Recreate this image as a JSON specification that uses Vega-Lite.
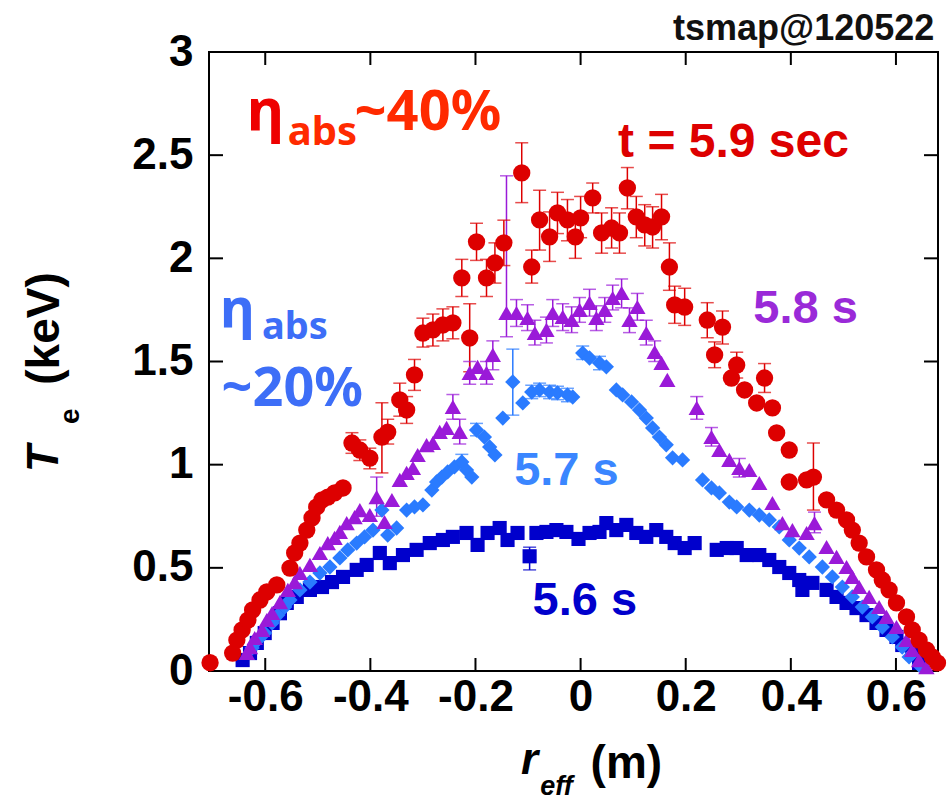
{
"$schema": "https://vega.github.io/schema/vega-lite/v6.json",
"width": 729, "height": 619,
"autosize": {"type": "none"},
"padding": {"left": 209, "top": 52, "right": 12, "bottom": 129},
"background": "white",
"config": {"view": {"stroke": "#000", "strokeWidth": 2}, "font": "Liberation Sans"},
"datasets": {
"xt": [{"v":-0.6},{"v":-0.4},{"v":-0.2},{"v":0},{"v":0.2},{"v":0.4},{"v":0.6}],
"yt": [{"v":0.5},{"v":1},{"v":1.5},{"v":2},{"v":2.5}],
"te": [
{"s":"5.6","x":-0.643,"y":0.053},{"s":"5.6","x":-0.629,"y":0.087},{"s":"5.6","x":-0.616,"y":0.136},{"s":"5.6","x":-0.601,"y":0.184},{"s":"5.6","x":-0.586,"y":0.233},{"s":"5.6","x":-0.572,"y":0.28},{"s":"5.6","x":-0.559,"y":0.33},{"s":"5.6","x":-0.54,"y":0.359},{"s":"5.6","x":-0.515,"y":0.393},{"s":"5.6","x":-0.492,"y":0.407},{"s":"5.6","x":-0.473,"y":0.431},{"s":"5.6","x":-0.452,"y":0.456},{"s":"5.6","x":-0.426,"y":0.49},{"s":"5.6","x":-0.407,"y":0.514},{"s":"5.6","x":-0.382,"y":0.572},{"s":"5.6","x":-0.363,"y":0.523},{"s":"5.6","x":-0.338,"y":0.562},{"s":"5.6","x":-0.312,"y":0.587},{"s":"5.6","x":-0.287,"y":0.62},{"s":"5.6","x":-0.262,"y":0.635},{"s":"5.6","x":-0.243,"y":0.65},{"s":"5.6","x":-0.217,"y":0.669},{"s":"5.6","x":-0.196,"y":0.611},{"s":"5.6","x":-0.177,"y":0.669},{"s":"5.6","x":-0.154,"y":0.693},{"s":"5.6","x":-0.139,"y":0.635},{"s":"5.6","x":-0.12,"y":0.669},{"s":"5.6","x":-0.097,"y":0.556,"lo":0.49,"hi":0.6},{"s":"5.6","x":-0.084,"y":0.669},{"s":"5.6","x":-0.065,"y":0.674},{"s":"5.6","x":-0.046,"y":0.683},{"s":"5.6","x":-0.027,"y":0.674},{"s":"5.6","x":-0.004,"y":0.64},{"s":"5.6","x":0.017,"y":0.669},{"s":"5.6","x":0.036,"y":0.674},{"s":"5.6","x":0.049,"y":0.717},{"s":"5.6","x":0.068,"y":0.683},{"s":"5.6","x":0.087,"y":0.708},{"s":"5.6","x":0.106,"y":0.669},{"s":"5.6","x":0.125,"y":0.65},{"s":"5.6","x":0.144,"y":0.683},{"s":"5.6","x":0.163,"y":0.65},{"s":"5.6","x":0.179,"y":0.62},{"s":"5.6","x":0.198,"y":0.596},{"s":"5.6","x":0.217,"y":0.62},{"s":"5.6","x":0.259,"y":0.587},{"s":"5.6","x":0.278,"y":0.596},{"s":"5.6","x":0.297,"y":0.596},{"s":"5.6","x":0.316,"y":0.562},{"s":"5.6","x":0.34,"y":0.562},{"s":"5.6","x":0.359,"y":0.538},{"s":"5.6","x":0.378,"y":0.504},{"s":"5.6","x":0.397,"y":0.475},{"s":"5.6","x":0.416,"y":0.441},{"s":"5.6","x":0.422,"y":0.393},{"s":"5.6","x":0.441,"y":0.427},{"s":"5.6","x":0.468,"y":0.393},{"s":"5.6","x":0.487,"y":0.359},{"s":"5.6","x":0.506,"y":0.33},{"s":"5.6","x":0.525,"y":0.305},{"s":"5.6","x":0.544,"y":0.271},{"s":"5.6","x":0.563,"y":0.233},{"s":"5.6","x":0.582,"y":0.199},{"s":"5.6","x":0.601,"y":0.165},{"s":"5.6","x":0.612,"y":0.126},{"s":"5.6","x":0.631,"y":0.087},{"s":"5.6","x":0.644,"y":0.039},
{"s":"5.7","x":-0.625,"y":0.111},{"s":"5.7","x":-0.614,"y":0.15},{"s":"5.7","x":-0.601,"y":0.184},{"s":"5.7","x":-0.587,"y":0.233},{"s":"5.7","x":-0.576,"y":0.271},{"s":"5.7","x":-0.563,"y":0.31},{"s":"5.7","x":-0.553,"y":0.344},{"s":"5.7","x":-0.534,"y":0.393},{"s":"5.7","x":-0.515,"y":0.431},{"s":"5.7","x":-0.496,"y":0.475},{"s":"5.7","x":-0.477,"y":0.504},{"s":"5.7","x":-0.458,"y":0.548},{"s":"5.7","x":-0.443,"y":0.587},{"s":"5.7","x":-0.426,"y":0.62},{"s":"5.7","x":-0.411,"y":0.65},{"s":"5.7","x":-0.395,"y":0.683},{"s":"5.7","x":-0.378,"y":0.78},{"s":"5.7","x":-0.367,"y":0.659},{"s":"5.7","x":-0.35,"y":0.693},{"s":"5.7","x":-0.331,"y":0.78},{"s":"5.7","x":-0.316,"y":0.795},{"s":"5.7","x":-0.3,"y":0.805},{"s":"5.7","x":-0.283,"y":0.877},{"s":"5.7","x":-0.274,"y":0.916},{"s":"5.7","x":-0.264,"y":0.94},{"s":"5.7","x":-0.253,"y":0.965},{"s":"5.7","x":-0.24,"y":0.989},{"s":"5.7","x":-0.226,"y":1.013,"lo":0.98,"hi":1.05},{"s":"5.7","x":-0.217,"y":0.974},{"s":"5.7","x":-0.207,"y":0.94},{"s":"5.7","x":-0.198,"y":1.168,"lo":1.14,"hi":1.2},{"s":"5.7","x":-0.183,"y":1.134},{"s":"5.7","x":-0.173,"y":1.086},{"s":"5.7","x":-0.163,"y":1.047},{"s":"5.7","x":-0.148,"y":1.226},{"s":"5.7","x":-0.129,"y":1.401,"lo":1.24,"hi":1.56},{"s":"5.7","x":-0.11,"y":1.299},{"s":"5.7","x":-0.093,"y":1.352,"lo":1.32,"hi":1.385},{"s":"5.7","x":-0.078,"y":1.362,"lo":1.33,"hi":1.395},{"s":"5.7","x":-0.059,"y":1.352,"lo":1.32,"hi":1.385},{"s":"5.7","x":-0.044,"y":1.348,"lo":1.315,"hi":1.38},{"s":"5.7","x":-0.025,"y":1.338,"lo":1.305,"hi":1.37},{"s":"5.7","x":-0.015,"y":1.328},{"s":"5.7","x":0.004,"y":1.541,"lo":1.51,"hi":1.575},{"s":"5.7","x":0.017,"y":1.517},{"s":"5.7","x":0.036,"y":1.493,"lo":1.46,"hi":1.525},{"s":"5.7","x":0.049,"y":1.474},{"s":"5.7","x":0.068,"y":1.362},{"s":"5.7","x":0.08,"y":1.338},{"s":"5.7","x":0.097,"y":1.304},{"s":"5.7","x":0.112,"y":1.265},{"s":"5.7","x":0.125,"y":1.226},{"s":"5.7","x":0.137,"y":1.178},{"s":"5.7","x":0.15,"y":1.134},{"s":"5.7","x":0.163,"y":1.096},{"s":"5.7","x":0.175,"y":1.033},{"s":"5.7","x":0.194,"y":1.023},{"s":"5.7","x":0.232,"y":0.926},{"s":"5.7","x":0.249,"y":0.887},{"s":"5.7","x":0.264,"y":0.863},{"s":"5.7","x":0.283,"y":0.819},{"s":"5.7","x":0.297,"y":0.795},{"s":"5.7","x":0.321,"y":0.78},{"s":"5.7","x":0.34,"y":0.756},{"s":"5.7","x":0.359,"y":0.732},{"s":"5.7","x":0.378,"y":0.698},{"s":"5.7","x":0.397,"y":0.635},{"s":"5.7","x":0.416,"y":0.596},{"s":"5.7","x":0.435,"y":0.553},{"s":"5.7","x":0.46,"y":0.504},{"s":"5.7","x":0.479,"y":0.456},{"s":"5.7","x":0.498,"y":0.407},{"s":"5.7","x":0.517,"y":0.359},{"s":"5.7","x":0.536,"y":0.31},{"s":"5.7","x":0.555,"y":0.262},{"s":"5.7","x":0.574,"y":0.213},{"s":"5.7","x":0.593,"y":0.165},{"s":"5.7","x":0.612,"y":0.116},{"s":"5.7","x":0.625,"y":0.068},{"s":"5.7","x":0.644,"y":0.029},
{"s":"5.8","x":-0.635,"y":0.087},{"s":"5.8","x":-0.629,"y":0.116},{"s":"5.8","x":-0.62,"y":0.16},{"s":"5.8","x":-0.606,"y":0.199},{"s":"5.8","x":-0.597,"y":0.247},{"s":"5.8","x":-0.587,"y":0.281},{"s":"5.8","x":-0.572,"y":0.334},{"s":"5.8","x":-0.557,"y":0.393},{"s":"5.8","x":-0.544,"y":0.431},{"s":"5.8","x":-0.534,"y":0.475},{"s":"5.8","x":-0.515,"y":0.514},{"s":"5.8","x":-0.496,"y":0.572},{"s":"5.8","x":-0.481,"y":0.62},{"s":"5.8","x":-0.468,"y":0.645},{"s":"5.8","x":-0.458,"y":0.674},{"s":"5.8","x":-0.445,"y":0.717},{"s":"5.8","x":-0.43,"y":0.746},{"s":"5.8","x":-0.42,"y":0.78},{"s":"5.8","x":-0.401,"y":0.756},{"s":"5.8","x":-0.388,"y":0.843,"lo":0.75,"hi":0.94},{"s":"5.8","x":-0.373,"y":0.722},{"s":"5.8","x":-0.359,"y":0.829},{"s":"5.8","x":-0.344,"y":0.926},{"s":"5.8","x":-0.331,"y":0.96},{"s":"5.8","x":-0.319,"y":0.984},{"s":"5.8","x":-0.31,"y":1.047},{"s":"5.8","x":-0.293,"y":1.095},{"s":"5.8","x":-0.281,"y":1.105},{"s":"5.8","x":-0.268,"y":1.159},{"s":"5.8","x":-0.255,"y":1.178},{"s":"5.8","x":-0.243,"y":1.28,"lo":1.22,"hi":1.34},{"s":"5.8","x":-0.23,"y":1.159,"lo":1.1,"hi":1.22},{"s":"5.8","x":-0.211,"y":1.445,"lo":1.39,"hi":1.5},{"s":"5.8","x":-0.196,"y":1.474},{"s":"5.8","x":-0.179,"y":1.445,"lo":1.39,"hi":1.5},{"s":"5.8","x":-0.167,"y":1.532,"lo":1.46,"hi":1.6},{"s":"5.8","x":-0.141,"y":1.735,"lo":1.62,"hi":2.4},{"s":"5.8","x":-0.122,"y":1.735,"lo":1.67,"hi":1.8},{"s":"5.8","x":-0.101,"y":1.711,"lo":1.65,"hi":1.775},{"s":"5.8","x":-0.087,"y":1.638,"lo":1.58,"hi":1.7},{"s":"5.8","x":-0.065,"y":1.653,"lo":1.59,"hi":1.715},{"s":"5.8","x":-0.053,"y":1.735,"lo":1.67,"hi":1.8},{"s":"5.8","x":-0.034,"y":1.716,"lo":1.65,"hi":1.78},{"s":"5.8","x":-0.017,"y":1.701,"lo":1.64,"hi":1.765},{"s":"5.8","x":-0.002,"y":1.75,"lo":1.69,"hi":1.81},{"s":"5.8","x":0.017,"y":1.784,"lo":1.72,"hi":1.85},{"s":"5.8","x":0.03,"y":1.711,"lo":1.65,"hi":1.77},{"s":"5.8","x":0.046,"y":1.75,"lo":1.69,"hi":1.81},{"s":"5.8","x":0.061,"y":1.808,"lo":1.75,"hi":1.87},{"s":"5.8","x":0.078,"y":1.832,"lo":1.76,"hi":1.9},{"s":"5.8","x":0.093,"y":1.701,"lo":1.64,"hi":1.76},{"s":"5.8","x":0.108,"y":1.764,"lo":1.7,"hi":1.83},{"s":"5.8","x":0.125,"y":1.638,"lo":1.58,"hi":1.7},{"s":"5.8","x":0.141,"y":1.546,"lo":1.5,"hi":1.6},{"s":"5.8","x":0.154,"y":1.493},{"s":"5.8","x":0.165,"y":1.411},{"s":"5.8","x":0.221,"y":1.275,"lo":1.22,"hi":1.33},{"s":"5.8","x":0.249,"y":1.134,"lo":1.09,"hi":1.18},{"s":"5.8","x":0.264,"y":1.071},{"s":"5.8","x":0.283,"y":1.023},{"s":"5.8","x":0.302,"y":0.984,"lo":0.94,"hi":1.03},{"s":"5.8","x":0.321,"y":0.974},{"s":"5.8","x":0.34,"y":0.911},{"s":"5.8","x":0.365,"y":0.814},{"s":"5.8","x":0.384,"y":0.717},{"s":"5.8","x":0.403,"y":0.683},{"s":"5.8","x":0.43,"y":0.669},{"s":"5.8","x":0.445,"y":0.717,"lo":0.67,"hi":0.77},{"s":"5.8","x":0.468,"y":0.601},{"s":"5.8","x":0.487,"y":0.553},{"s":"5.8","x":0.506,"y":0.504},{"s":"5.8","x":0.517,"y":0.456},{"s":"5.8","x":0.53,"y":0.407},{"s":"5.8","x":0.549,"y":0.359},{"s":"5.8","x":0.568,"y":0.31},{"s":"5.8","x":0.582,"y":0.262},{"s":"5.8","x":0.601,"y":0.213},{"s":"5.8","x":0.62,"y":0.15},{"s":"5.8","x":0.631,"y":0.102},{"s":"5.8","x":0.644,"y":0.053},{"s":"5.8","x":0.658,"y":0.019},
{"s":"5.9","x":-0.705,"y":0.04},{"s":"5.9","x":-0.662,"y":0.087},{"s":"5.9","x":-0.654,"y":0.15},{"s":"5.9","x":-0.644,"y":0.199},{"s":"5.9","x":-0.633,"y":0.247},{"s":"5.9","x":-0.624,"y":0.296},{"s":"5.9","x":-0.61,"y":0.344},{"s":"5.9","x":-0.597,"y":0.383},{"s":"5.9","x":-0.578,"y":0.417},{"s":"5.9","x":-0.553,"y":0.499},{"s":"5.9","x":-0.544,"y":0.572},{"s":"5.9","x":-0.534,"y":0.62},{"s":"5.9","x":-0.521,"y":0.683},{"s":"5.9","x":-0.511,"y":0.742},{"s":"5.9","x":-0.502,"y":0.795},{"s":"5.9","x":-0.492,"y":0.829},{"s":"5.9","x":-0.481,"y":0.843},{"s":"5.9","x":-0.468,"y":0.863},{"s":"5.9","x":-0.452,"y":0.887},{"s":"5.9","x":-0.435,"y":1.105,"lo":1.055,"hi":1.155},{"s":"5.9","x":-0.42,"y":1.071,"lo":1.02,"hi":1.12},{"s":"5.9","x":-0.401,"y":1.032,"lo":0.98,"hi":1.08},{"s":"5.9","x":-0.378,"y":1.134,"lo":0.96,"hi":1.3},{"s":"5.9","x":-0.367,"y":1.158,"lo":1.1,"hi":1.22},{"s":"5.9","x":-0.344,"y":1.314,"lo":1.235,"hi":1.395},{"s":"5.9","x":-0.331,"y":1.265,"lo":1.2,"hi":1.33},{"s":"5.9","x":-0.316,"y":1.435,"lo":1.36,"hi":1.51},{"s":"5.9","x":-0.3,"y":1.638,"lo":1.57,"hi":1.71},{"s":"5.9","x":-0.281,"y":1.653,"lo":1.575,"hi":1.73},{"s":"5.9","x":-0.262,"y":1.677,"lo":1.6,"hi":1.755},{"s":"5.9","x":-0.243,"y":1.687,"lo":1.61,"hi":1.765},{"s":"5.9","x":-0.226,"y":1.905,"lo":1.815,"hi":1.995},{"s":"5.9","x":-0.211,"y":1.614,"lo":1.45,"hi":1.78},{"s":"5.9","x":-0.198,"y":2.08,"lo":1.99,"hi":2.17},{"s":"5.9","x":-0.179,"y":1.905,"lo":1.815,"hi":1.995},{"s":"5.9","x":-0.163,"y":1.978,"lo":1.88,"hi":2.075},{"s":"5.9","x":-0.146,"y":2.075,"lo":1.965,"hi":2.185},{"s":"5.9","x":-0.112,"y":2.414,"lo":2.27,"hi":2.56},{"s":"5.9","x":-0.093,"y":1.958,"lo":1.88,"hi":2.04},{"s":"5.9","x":-0.078,"y":2.186,"lo":2.04,"hi":2.33},{"s":"5.9","x":-0.059,"y":2.104,"lo":1.985,"hi":2.225},{"s":"5.9","x":-0.044,"y":2.22,"lo":2.12,"hi":2.32},{"s":"5.9","x":-0.025,"y":2.186,"lo":2.085,"hi":2.285},{"s":"5.9","x":-0.01,"y":2.104,"lo":2.0,"hi":2.2},{"s":"5.9","x":0.0,"y":2.196,"lo":2.1,"hi":2.3},{"s":"5.9","x":0.023,"y":2.293,"lo":2.22,"hi":2.365},{"s":"5.9","x":0.04,"y":2.123,"lo":2.025,"hi":2.22},{"s":"5.9","x":0.059,"y":2.147,"lo":2.05,"hi":2.245},{"s":"5.9","x":0.074,"y":2.123,"lo":2.025,"hi":2.22},{"s":"5.9","x":0.089,"y":2.341,"lo":2.24,"hi":2.44},{"s":"5.9","x":0.106,"y":2.201,"lo":2.1,"hi":2.3},{"s":"5.9","x":0.122,"y":2.162,"lo":2.06,"hi":2.26},{"s":"5.9","x":0.137,"y":2.152,"lo":2.05,"hi":2.25},{"s":"5.9","x":0.154,"y":2.201,"lo":2.09,"hi":2.31},{"s":"5.9","x":0.169,"y":1.958,"lo":1.845,"hi":2.075},{"s":"5.9","x":0.179,"y":1.774,"lo":1.685,"hi":1.865},{"s":"5.9","x":0.198,"y":1.764,"lo":1.675,"hi":1.855},{"s":"5.9","x":0.241,"y":1.701,"lo":1.615,"hi":1.785},{"s":"5.9","x":0.255,"y":1.532,"lo":1.47,"hi":1.595},{"s":"5.9","x":0.27,"y":1.667,"lo":1.585,"hi":1.745},{"s":"5.9","x":0.287,"y":1.42},{"s":"5.9","x":0.297,"y":1.483,"lo":1.42,"hi":1.545},{"s":"5.9","x":0.312,"y":1.362},{"s":"5.9","x":0.335,"y":1.299},{"s":"5.9","x":0.35,"y":1.42,"lo":1.35,"hi":1.49},{"s":"5.9","x":0.365,"y":1.275},{"s":"5.9","x":0.373,"y":1.154},{"s":"5.9","x":0.397,"y":1.071},{"s":"5.9","x":0.397,"y":0.916},{"s":"5.9","x":0.43,"y":0.926},{"s":"5.9","x":0.443,"y":0.94,"lo":0.78,"hi":1.105},{"s":"5.9","x":0.468,"y":0.829},{"s":"5.9","x":0.487,"y":0.78},{"s":"5.9","x":0.506,"y":0.732},{"s":"5.9","x":0.517,"y":0.683},{"s":"5.9","x":0.53,"y":0.62},{"s":"5.9","x":0.544,"y":0.553},{"s":"5.9","x":0.563,"y":0.49},{"s":"5.9","x":0.574,"y":0.441},{"s":"5.9","x":0.587,"y":0.393},{"s":"5.9","x":0.601,"y":0.33},{"s":"5.9","x":0.62,"y":0.262},{"s":"5.9","x":0.631,"y":0.199},{"s":"5.9","x":0.644,"y":0.15},{"s":"5.9","x":0.658,"y":0.102},{"s":"5.9","x":0.669,"y":0.068},{"s":"5.9","x":0.679,"y":0.039}
]},
"data": {"name": "te"},
"resolve": {"scale": {"x": "independent", "y": "independent"}, "axis": {"x": "independent", "y": "independent"}},
"layer": [
{"data": {"name": "xt"}, "mark": {"type": "rule", "color": "#000", "strokeWidth": 2},
 "encoding": {
  "x": {"field": "v", "type": "quantitative", "scale": {"domain": [-0.707, 0.68], "nice": false, "zero": false}, "axis": null},
  "y": {"datum": 0, "type": "quantitative", "scale": {"domain": [0, 3], "nice": false, "zero": false}, "axis": null},
  "y2": {"datum": 0.063}
 }},
{"data": {"name": "xt"}, "mark": {"type": "rule", "color": "#000", "strokeWidth": 2},
 "encoding": {
  "x": {"field": "v", "type": "quantitative", "scale": {"domain": [-0.707, 0.68], "nice": false, "zero": false}, "axis": null},
  "y": {"datum": 2.937, "type": "quantitative", "scale": {"domain": [0, 3], "nice": false, "zero": false}, "axis": null},
  "y2": {"datum": 3}
 }},
{"data": {"name": "yt"}, "mark": {"type": "rule", "color": "#000", "strokeWidth": 2},
 "encoding": {
  "y": {"field": "v", "type": "quantitative", "scale": {"domain": [0, 3], "nice": false, "zero": false}, "axis": null},
  "x": {"datum": -0.707, "type": "quantitative", "scale": {"domain": [-0.707, 0.68], "nice": false, "zero": false}, "axis": null},
  "x2": {"datum": -0.6804}
 }},
{"data": {"name": "yt"}, "mark": {"type": "rule", "color": "#000", "strokeWidth": 2},
 "encoding": {
  "y": {"field": "v", "type": "quantitative", "scale": {"domain": [0, 3], "nice": false, "zero": false}, "axis": null},
  "x": {"datum": 0.6534, "type": "quantitative", "scale": {"domain": [-0.707, 0.68], "nice": false, "zero": false}, "axis": null},
  "x2": {"datum": 0.68}
 }},
{"mark": {"type": "rule", "strokeWidth": 1.5},
 "transform": [{"filter": "isValid(datum.lo)"}],
 "encoding": {
  "x": {"field": "x", "type": "quantitative", "scale": {"domain": [-0.707, 0.68], "nice": false, "zero": false}, "axis": null},
  "y": {"field": "lo", "type": "quantitative", "scale": {"domain": [0, 3], "nice": false, "zero": false}, "axis": null},
  "y2": {"field": "hi"},
  "color": {"field": "s", "type": "nominal", "scale": {"domain": ["5.6","5.7","5.8","5.9"], "range": ["#0000cc","#2a7bff","#9a1ad8","#dd0000"]}, "legend": null}
 }},
{"mark": {"type": "tick", "orient": "horizontal", "size": 13, "thickness": 1.5},
 "transform": [{"filter": "isValid(datum.lo)"}],
 "encoding": {
  "x": {"field": "x", "type": "quantitative", "scale": {"domain": [-0.707, 0.68], "nice": false, "zero": false}, "axis": null},
  "y": {"field": "lo", "type": "quantitative", "scale": {"domain": [0, 3], "nice": false, "zero": false}, "axis": null},
  "color": {"field": "s", "type": "nominal", "legend": null}
 }},
{"mark": {"type": "tick", "orient": "horizontal", "size": 13, "thickness": 1.5},
 "transform": [{"filter": "isValid(datum.hi)"}],
 "encoding": {
  "x": {"field": "x", "type": "quantitative", "scale": {"domain": [-0.707, 0.68], "nice": false, "zero": false}, "axis": null},
  "y": {"field": "hi", "type": "quantitative", "scale": {"domain": [0, 3], "nice": false, "zero": false}, "axis": null},
  "color": {"field": "s", "type": "nominal", "legend": null}
 }},
{"mark": {"type": "point", "filled": true, "opacity": 1, "strokeWidth": 0},
 "encoding": {
  "x": {"field": "x", "type": "quantitative", "scale": {"domain": [-0.707, 0.68], "nice": false, "zero": false},
        "axis": {"orient": "bottom", "values": [-0.6,-0.4,-0.2,0,0.2,0.4,0.6], "labelExpr": "'' + datum.value", "title": null, "grid": false, "domain": false, "ticks": false, "labelFont": "Liberation Sans", "labelFontSize": 44, "labelFontWeight": "bold", "labelColor": "#000", "labelPadding": 4, "labelFlush": false, "labelOverlap": false}},
  "y": {"field": "y", "type": "quantitative", "scale": {"domain": [0, 3], "nice": false, "zero": false},
        "axis": {"orient": "left", "values": [0,0.5,1,1.5,2,2.5,3], "labelExpr": "'' + datum.value", "title": null, "grid": false, "domain": false, "ticks": false, "labelFont": "Liberation Sans", "labelFontSize": 44, "labelFontWeight": "bold", "labelColor": "#000", "labelPadding": 16, "labelFlush": false, "labelOverlap": false}},
  "color": {"field": "s", "type": "nominal", "legend": null},
  "shape": {"field": "s", "type": "nominal", "scale": {"domain": ["5.6","5.7","5.8","5.9"], "range": ["square","diamond","triangle-up","circle"]}, "legend": null},
  "size": {"field": "s", "type": "nominal", "scale": {"domain": ["5.6","5.7","5.8","5.9"], "range": [200, 300, 300, 400]}, "legend": null}
 }},
{"data": {"values": [{}]}, "mark": {"type": "text", "text": "tsmap@120522", "font": "Liberation Sans", "fontSize": 36, "fontWeight": "bold", "color": "#111", "align": "right", "baseline": "alphabetic"},
 "encoding": {"x": {"datum": 0.673, "type": "quantitative", "scale": {"domain": [-0.707, 0.68], "nice": false, "zero": false}, "axis": null}, "y": {"datum": 3.059, "type": "quantitative", "scale": {"domain": [0, 3], "nice": false, "zero": false}, "axis": null}}},
{"data": {"values": [{}]}, "mark": {"type": "text", "text": "t = 5.9 sec", "font": "Liberation Sans", "fontSize": 48, "fontWeight": "bold", "color": "#dd0000", "align": "center", "baseline": "alphabetic"},
 "encoding": {"x": {"datum": 0.291, "type": "quantitative", "scale": {"domain": [-0.707, 0.68], "nice": false, "zero": false}, "axis": null}, "y": {"datum": 2.491, "type": "quantitative", "scale": {"domain": [0, 3], "nice": false, "zero": false}, "axis": null}}},
{"data": {"values": [{}]}, "mark": {"type": "text", "text": "5.8 s", "font": "Liberation Sans", "fontSize": 47, "fontWeight": "bold", "color": "#9a2ad8", "align": "center", "baseline": "alphabetic"},
 "encoding": {"x": {"datum": 0.428, "type": "quantitative", "scale": {"domain": [-0.707, 0.68], "nice": false, "zero": false}, "axis": null}, "y": {"datum": 1.687, "type": "quantitative", "scale": {"domain": [0, 3], "nice": false, "zero": false}, "axis": null}}},
{"data": {"values": [{}]}, "mark": {"type": "text", "text": "5.7 s", "font": "Liberation Sans", "fontSize": 47, "fontWeight": "bold", "color": "#3a86ff", "align": "center", "baseline": "alphabetic"},
 "encoding": {"x": {"datum": -0.027, "type": "quantitative", "scale": {"domain": [-0.707, 0.68], "nice": false, "zero": false}, "axis": null}, "y": {"datum": 0.902, "type": "quantitative", "scale": {"domain": [0, 3], "nice": false, "zero": false}, "axis": null}}},
{"data": {"values": [{}]}, "mark": {"type": "text", "text": "5.6 s", "font": "Liberation Sans", "fontSize": 47, "fontWeight": "bold", "color": "#0000cc", "align": "center", "baseline": "alphabetic"},
 "encoding": {"x": {"datum": 0.008, "type": "quantitative", "scale": {"domain": [-0.707, 0.68], "nice": false, "zero": false}, "axis": null}, "y": {"datum": 0.271, "type": "quantitative", "scale": {"domain": [0, 3], "nice": false, "zero": false}, "axis": null}}},
{"data": {"values": [{}]}, "mark": {"type": "text", "text": "η", "font": "Noto Sans", "fontSize": 58, "fontWeight": "bold", "color": "#ee0000", "align": "left", "baseline": "alphabetic"},
 "encoding": {"x": {"datum": -0.635, "type": "quantitative", "scale": {"domain": [-0.707, 0.68], "nice": false, "zero": false}, "axis": null}, "y": {"datum": 2.622, "type": "quantitative", "scale": {"domain": [0, 3], "nice": false, "zero": false}, "axis": null}}},
{"data": {"values": [{}]}, "mark": {"type": "text", "text": "abs", "font": "Noto Sans", "fontSize": 40, "fontWeight": "bold", "color": "#ff2a00", "align": "left", "baseline": "alphabetic"},
 "encoding": {"x": {"datum": -0.557, "type": "quantitative", "scale": {"domain": [-0.707, 0.68], "nice": false, "zero": false}, "axis": null}, "y": {"datum": 2.55, "type": "quantitative", "scale": {"domain": [0, 3], "nice": false, "zero": false}, "axis": null}}},
{"data": {"values": [{}]}, "mark": {"type": "text", "text": "~40%", "font": "Noto Sans", "fontSize": 56, "fontWeight": "bold", "color": "#ff2a00", "align": "left", "baseline": "alphabetic"},
 "encoding": {"x": {"datum": -0.43, "type": "quantitative", "scale": {"domain": [-0.707, 0.68], "nice": false, "zero": false}, "axis": null}, "y": {"datum": 2.622, "type": "quantitative", "scale": {"domain": [0, 3], "nice": false, "zero": false}, "axis": null}}},
{"data": {"values": [{}]}, "mark": {"type": "text", "text": "η", "font": "Noto Sans", "fontSize": 54, "fontWeight": "bold", "color": "#3d6ef7", "align": "left", "baseline": "alphabetic"},
 "encoding": {"x": {"datum": -0.686, "type": "quantitative", "scale": {"domain": [-0.707, 0.68], "nice": false, "zero": false}, "axis": null}, "y": {"datum": 1.665, "type": "quantitative", "scale": {"domain": [0, 3], "nice": false, "zero": false}, "axis": null}}},
{"data": {"values": [{}]}, "mark": {"type": "text", "text": "abs", "font": "Noto Sans", "fontSize": 38, "fontWeight": "bold", "color": "#3d6ef7", "align": "left", "baseline": "alphabetic"},
 "encoding": {"x": {"datum": -0.606, "type": "quantitative", "scale": {"domain": [-0.707, 0.68], "nice": false, "zero": false}, "axis": null}, "y": {"datum": 1.61, "type": "quantitative", "scale": {"domain": [0, 3], "nice": false, "zero": false}, "axis": null}}},
{"data": {"values": [{}]}, "mark": {"type": "text", "text": "~20%", "font": "Noto Sans", "fontSize": 54, "fontWeight": "bold", "color": "#3d6ef7", "align": "left", "baseline": "alphabetic"},
 "encoding": {"x": {"datum": -0.683, "type": "quantitative", "scale": {"domain": [-0.707, 0.68], "nice": false, "zero": false}, "axis": null}, "y": {"datum": 1.285, "type": "quantitative", "scale": {"domain": [0, 3], "nice": false, "zero": false}, "axis": null}}},
{"data": {"values": [{}]}, "mark": {"type": "text", "text": "T", "font": "Liberation Sans", "fontSize": 44, "fontWeight": "bold", "fontStyle": "italic", "color": "#000", "align": "center", "baseline": "middle", "angle": 270},
 "encoding": {"x": {"datum": -1.019, "type": "quantitative", "scale": {"domain": [-0.707, 0.68], "nice": false, "zero": false}, "axis": null}, "y": {"datum": 1.03, "type": "quantitative", "scale": {"domain": [0, 3], "nice": false, "zero": false}, "axis": null}}},
{"data": {"values": [{}]}, "mark": {"type": "text", "text": "e", "font": "Liberation Sans", "fontSize": 28, "fontWeight": "bold", "color": "#000", "align": "center", "baseline": "middle", "angle": 270},
 "encoding": {"x": {"datum": -0.97, "type": "quantitative", "scale": {"domain": [-0.707, 0.68], "nice": false, "zero": false}, "axis": null}, "y": {"datum": 1.235, "type": "quantitative", "scale": {"domain": [0, 3], "nice": false, "zero": false}, "axis": null}}},
{"data": {"values": [{}]}, "mark": {"type": "text", "text": "(keV)", "font": "Liberation Sans", "fontSize": 46, "fontWeight": "bold", "color": "#000", "align": "center", "baseline": "middle", "angle": 270},
 "encoding": {"x": {"datum": -1.019, "type": "quantitative", "scale": {"domain": [-0.707, 0.68], "nice": false, "zero": false}, "axis": null}, "y": {"datum": 1.66, "type": "quantitative", "scale": {"domain": [0, 3], "nice": false, "zero": false}, "axis": null}}},
{"data": {"values": [{}]}, "mark": {"type": "text", "text": "r", "font": "Liberation Sans", "fontSize": 44, "fontWeight": "bold", "fontStyle": "italic", "color": "#000", "align": "center", "baseline": "alphabetic"},
 "encoding": {"x": {"datum": -0.097, "type": "quantitative", "scale": {"domain": [-0.707, 0.68], "nice": false, "zero": false}, "axis": null}, "y": {"datum": -0.5, "type": "quantitative", "scale": {"domain": [0, 3], "nice": false, "zero": false}, "axis": null}}},
{"data": {"values": [{}]}, "mark": {"type": "text", "text": "eff", "font": "Liberation Sans", "fontSize": 27, "fontWeight": "bold", "fontStyle": "italic", "color": "#000", "align": "center", "baseline": "alphabetic"},
 "encoding": {"x": {"datum": -0.046, "type": "quantitative", "scale": {"domain": [-0.707, 0.68], "nice": false, "zero": false}, "axis": null}, "y": {"datum": -0.6, "type": "quantitative", "scale": {"domain": [0, 3], "nice": false, "zero": false}, "axis": null}}},
{"data": {"values": [{}]}, "mark": {"type": "text", "text": "(m)", "font": "Liberation Sans", "fontSize": 46, "fontWeight": "bold", "color": "#000", "align": "center", "baseline": "alphabetic"},
 "encoding": {"x": {"datum": 0.087, "type": "quantitative", "scale": {"domain": [-0.707, 0.68], "nice": false, "zero": false}, "axis": null}, "y": {"datum": -0.519, "type": "quantitative", "scale": {"domain": [0, 3], "nice": false, "zero": false}, "axis": null}}}
]
}
